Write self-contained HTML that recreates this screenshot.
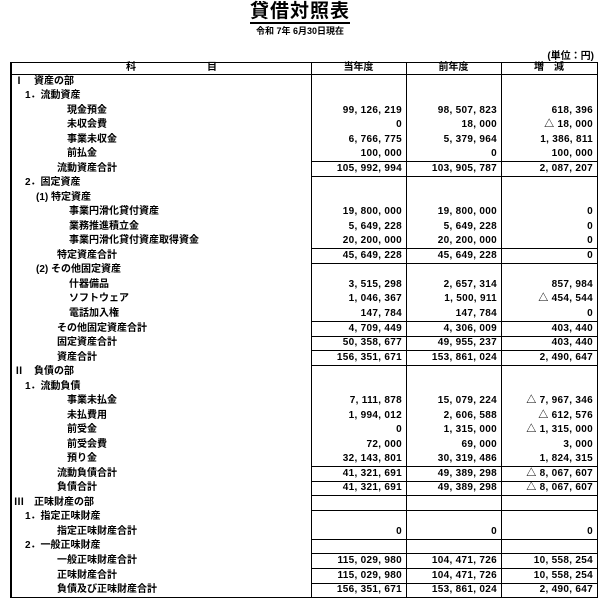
<!DOCTYPE html>
<html><head><meta charset="utf-8"><style>
body{margin:0;width:600px;height:600px;background:#fff;position:relative;overflow:hidden;font-family:"Liberation Sans","Noto Sans CJK JP",sans-serif;color:#000}
.a{position:absolute;white-space:nowrap}
.t{font-size:10px;line-height:14px;font-weight:bold}
.n{font-size:10px;line-height:14px;text-align:right;font-weight:bold;letter-spacing:0.3px}
.h{position:absolute;height:1px;background:#000}
.v{position:absolute;width:1px;background:#000}
</style></head><body>
<div class="a" style="left:0;width:600px;top:2px;text-align:center;font-size:19px;font-weight:bold;line-height:20px;"><span style="border-bottom:2px solid #000;letter-spacing:1px;display:inline-block;line-height:20px">貸借対照表</span></div>
<div class="a" style="left:0;width:600px;top:25px;text-align:center;font-size:9px;line-height:12px;font-weight:bold">令和 7年 6月30日現在</div>
<div class="a" style="right:6px;top:51px;font-size:10px;line-height:12px;font-weight:bold">(単位：円)</div>

<div class="h" style="left:10px;width:588px;top:62px"></div>
<div class="h" style="left:10px;width:588px;top:74px"></div>
<div class="h" style="left:10px;width:588px;top:597px"></div>
<div class="v" style="left:10px;top:62px;height:536px;width:2px"></div>
<div class="v" style="left:597px;top:62px;height:536px"></div>
<div class="v" style="left:311px;top:62px;height:536px"></div>
<div class="v" style="left:406px;top:62px;height:536px"></div>
<div class="v" style="left:501px;top:62px;height:536px"></div>

<div class="a t" style="left:126px;top:61px">科</div>
<div class="a t" style="left:207px;top:61px">目</div>
<div class="a t" style="left:311px;width:95px;text-align:center;top:61px">当年度</div>
<div class="a t" style="left:406px;width:95px;text-align:center;top:61px">前年度</div>
<div class="a t" style="left:501px;width:96px;text-align:center;top:61px">増　減</div>

<div id="c"></div>
<script>
var R=[
[14,"Ⅰ　資産の部"],[25,"1．流動資産"],
[67,"現金預金","99, 126, 219","98, 507, 823","618, 396"],
[67,"未収会費","0","18, 000","△ 18, 000"],
[67,"事業未収金","6, 766, 775","5, 379, 964","1, 386, 811"],
[67,"前払金","100, 000","0","100, 000"],
[57,"流動資産合計","105, 992, 994","103, 905, 787","2, 087, 207"],
[25,"2．固定資産"],[36,"(1) 特定資産"],
[69,"事業円滑化貸付資産","19, 800, 000","19, 800, 000","0"],
[69,"業務推進積立金","5, 649, 228","5, 649, 228","0"],
[69,"事業円滑化貸付資産取得資金","20, 200, 000","20, 200, 000","0"],
[57,"特定資産合計","45, 649, 228","45, 649, 228","0"],
[36,"(2) その他固定資産"],
[69,"什器備品","3, 515, 298","2, 657, 314","857, 984"],
[69,"ソフトウェア","1, 046, 367","1, 500, 911","△ 454, 544"],
[69,"電話加入権","147, 784","147, 784","0"],
[57,"その他固定資産合計","4, 709, 449","4, 306, 009","403, 440"],
[57,"固定資産合計","50, 358, 677","49, 955, 237","403, 440"],
[57,"資産合計","156, 351, 671","153, 861, 024","2, 490, 647"],
[14,"Ⅱ　負債の部"],[25,"1．流動負債"],
[67,"事業未払金","7, 111, 878","15, 079, 224","△ 7, 967, 346"],
[67,"未払費用","1, 994, 012","2, 606, 588","△ 612, 576"],
[67,"前受金","0","1, 315, 000","△ 1, 315, 000"],
[67,"前受会費","72, 000","69, 000","3, 000"],
[67,"預り金","32, 143, 801","30, 319, 486","1, 824, 315"],
[57,"流動負債合計","41, 321, 691","49, 389, 298","△ 8, 067, 607"],
[57,"負債合計","41, 321, 691","49, 389, 298","△ 8, 067, 607"],
[14,"Ⅲ　正味財産の部"],[25,"1．指定正味財産"],
[57,"指定正味財産合計","0","0","0"],
[25,"2．一般正味財産"],
[57,"一般正味財産合計","115, 029, 980","104, 471, 726","10, 558, 254"],
[57,"正味財産合計","115, 029, 980","104, 471, 726","10, 558, 254"],
[57,"負債及び正味財産合計","156, 351, 671","153, 861, 024","2, 490, 647"]];
var L=[7,8,13,14,18,19,20,21,28,29,30,31,33,34,35,36];
var h="",H=14.53,X=[311,406,501];
R.forEach(function(r,i){var y=74+i*H;
h+='<div class="a t" style="left:'+r[0]+'px;top:'+(y+0.5)+'px">'+r[1]+'</div>';
for(var k=0;k<3;k++)if(r[2+k]!==undefined)h+='<div class="a n" style="left:'+X[k]+'px;width:'+(k==2?92:91)+'px;top:'+(y+0.5)+'px">'+r[2+k]+'</div>';});
L.forEach(function(i){h+='<div class="h" style="left:311px;width:287px;top:'+Math.round(74+(i-1)*H)+'px"></div>';});
document.getElementById("c").innerHTML=h;
</script>
</body></html>
